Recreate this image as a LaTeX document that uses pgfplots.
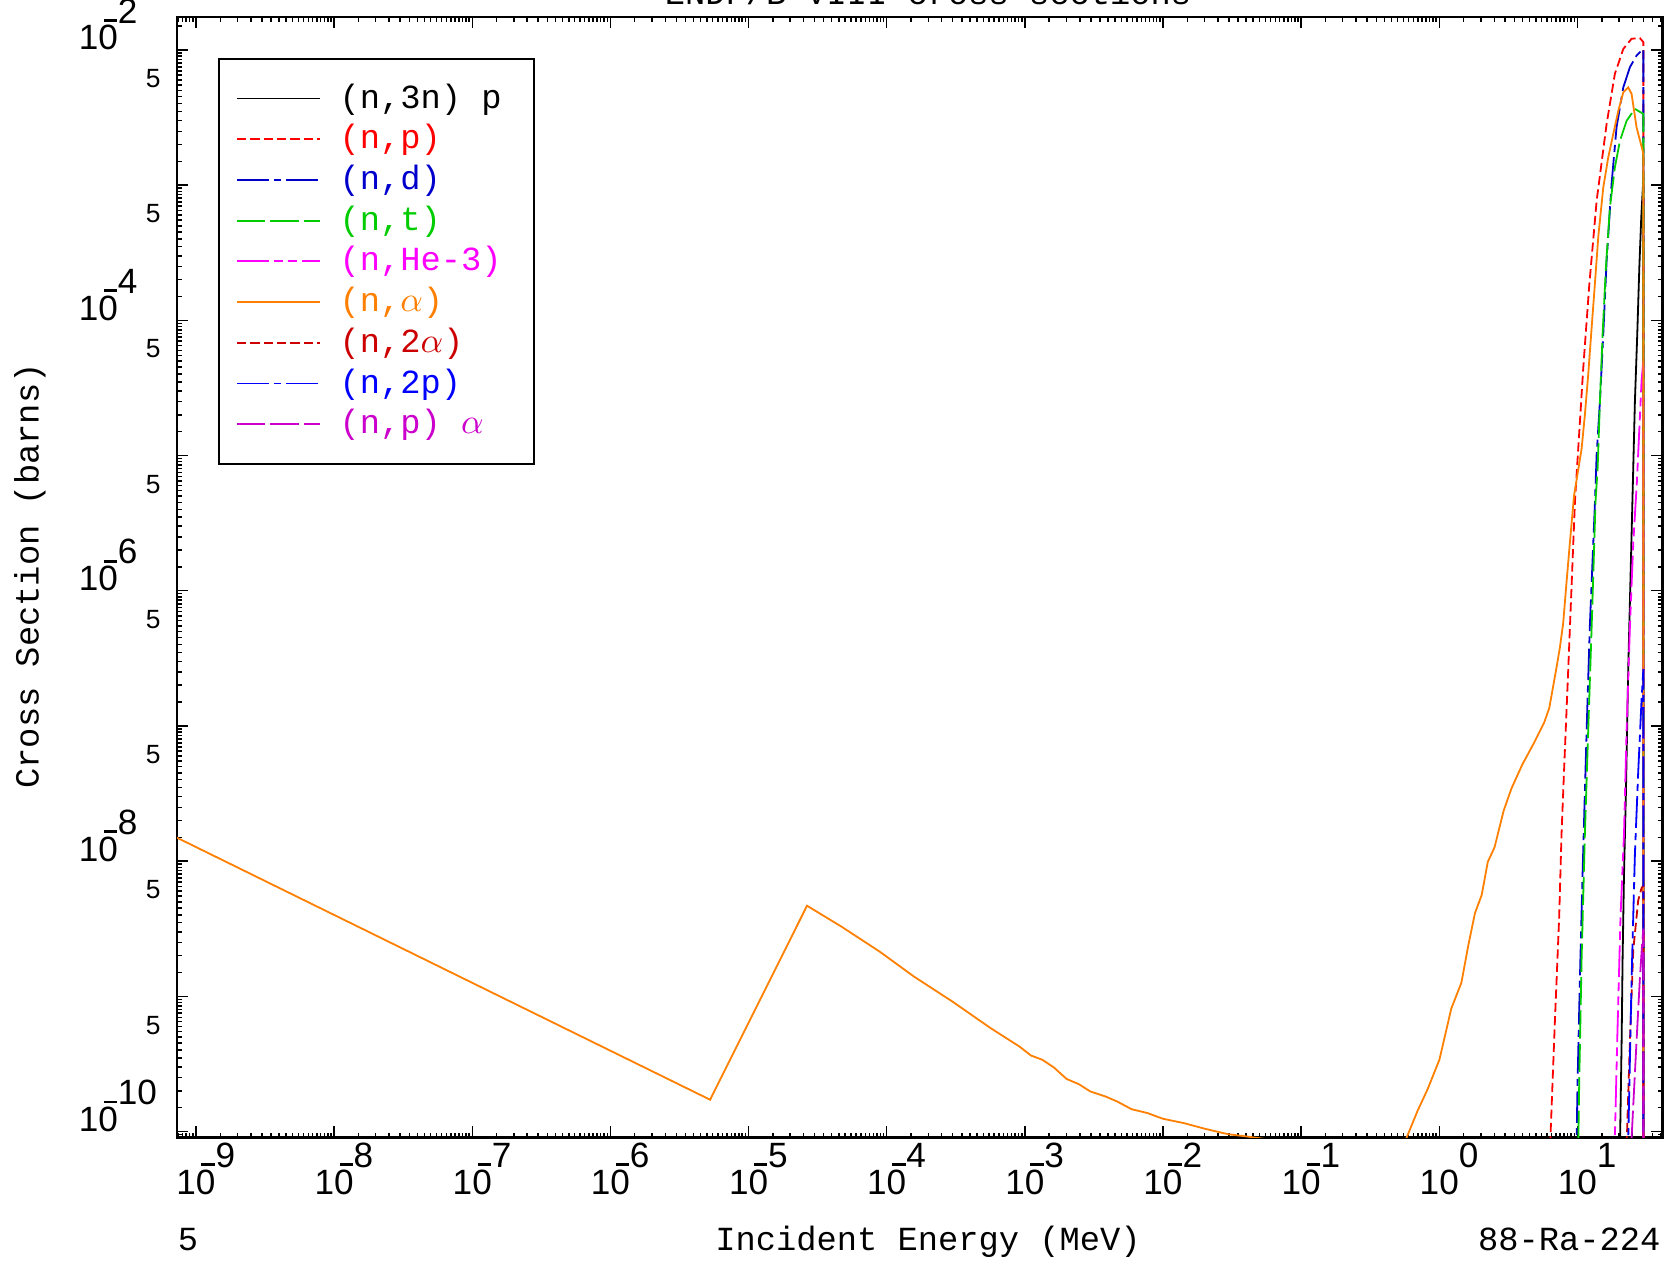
\documentclass[border=0pt]{standalone}
\usepackage{fontspec}
\setmainfont{Liberation Mono}
\newfontfamily\tickfont{Liberation Sans}
\usepackage{pgfplots}
\pgfplotsset{compat=1.18}

\definecolor{cnd}{RGB}{0,0,204}
\definecolor{cnt}{RGB}{0,204,0}
\definecolor{cmag}{RGB}{255,0,255}
\definecolor{corg}{RGB}{255,127,0}
\definecolor{cdred}{RGB}{204,0,0}
\definecolor{cblu}{RGB}{0,0,255}
\definecolor{cpur}{RGB}{204,0,204}

\newcommand\pw[1]{10\rlap{\llap{\raisebox{0.80em}{\rule{0.38em}{0.08em}}\kern0.02em}\raisebox{0.76em}{#1}}}
\newcommand\fv{\hspace{6.7mm}\raisebox{0.3mm}{\fontsize{7.5}{8}\selectfont 5}}
\newcommand\lgs{\rule[-0.8mm]{0pt}{3.2mm}}
\newcommand\cf{\fontsize{9.6}{11}\selectfont}

\def\mx{1e-20}
\foreach \e in {-10,...,1}{\foreach \m in {1.5,2,2.5,3,3.5,4,4.5,5,5.5,6,6.5,7,7.5,8,8.5,9,9.5}{\xdef\mx{\mx,\m e\e}}}
\def\my{1e-20}
\foreach \e in {-11,...,-2}{\foreach \m in {1.5,2,2.5,3,3.5,4,4.5,5.5,6,6.5,7,7.5,8,8.5,9,9.5}{\xdef\my{\my,\m e\e}}}

\tikzset{
 sp/.style={dash pattern=on 2.6pt off 1.2pt},
 dd/.style={dash pattern=on 9pt off 1.5pt on 2pt off 1.5pt},
 ld/.style={dash pattern=on 8pt off 1.5pt},
 he/.style={dash pattern=on 9pt off 1.5pt on 2.5pt off 1.5pt on 2.5pt off 1.5pt},
}

\begin{document}
\begin{tikzpicture}
\path[use as bounding box] (0,0) rectangle (167.3mm,-126.3mm);
\begin{axis}[
 at={(17.71mm,-1.71mm)}, anchor=north west,
 scale only axis, width=148.53mm, height=112.03mm,
 xmode=log, ymode=log,
 xmin=7.3e-10, xmax=41.2, ymin=9.04e-11, ymax=1.746e-2,
 axis line style={line width=0.25mm},
 tick style={line width=0.15mm, black},
 major tick length=1.1mm, minor tick length=0.45mm,
 tick align=inside,
 xtick={1e-9,1e-8,1e-7,1e-6,1e-5,1e-4,1e-3,1e-2,1e-1,1,10},
 xticklabels={\pw{9},\pw{8},\pw{7},\pw{6},\pw{5},\pw{4},\pw{3},\pw{2},\pw{1},10\rlap{\raisebox{0.76em}{0}},10\rlap{\raisebox{0.76em}{1}}},
 minor xtick/.expanded=\mx,
 ytick={1e-10,1e-9,1e-8,1e-7,1e-6,1e-5,1e-4,1e-3,1e-2},
 yticklabels={\pw{10},{},\pw{8},{},\pw{6},{},\pw{4},{},\pw{2}},
 minor ytick/.expanded=\my,
 extra y ticks={5e-10,5e-9,5e-8,5e-7,5e-6,5e-5,5e-4,5e-3},
 extra y tick labels={\fv,\fv,\fv,\fv,\fv,\fv,\fv,\fv},
 extra y tick style={grid=none, major tick length=0.45mm},
 tick label style={font=\tickfont\fontsize{10}{12}\selectfont, inner sep=0pt},
 yticklabel style={anchor=base west, xshift=-9.9mm},
 xticklabel style={anchor=base, yshift=-5.67mm},
 legend cell align=left,
 legend image code/.code={\draw[#1] (0mm,0mm) -- (8.3mm,0mm);},
 legend style={at={(axis description cs:0.02733,0.96385)}, anchor=north west,
   draw=black, line width=0.2mm, inner xsep=1.75mm, inner ysep=2.5mm,
   row sep=1.10mm, column sep=1.86mm, nodes={inner sep=0pt}, font=\cf},
 every axis plot/.append style={line width=0.18mm},
]
\addplot[black, solid] coordinates {(20.18,5.01e-11)(20.89,4.68e-10)(21.23,1.91e-9)(21.73,7.94e-9)(22.44,3.24e-8)(23.33,2.70e-7)(25.00,4.57e-6)(26.06,2.51e-5)(27.10,7.85e-5)(28.05,2.45e-4)(28.97,5.75e-4)(30,1.12e-3)(30,1e-12)};
\addlegendentry{\lgs(n,3n) p\rule{1.5mm}{0pt}}
\addplot[red, sp] coordinates {(6.237,5.01e-11)(6.871,6.61e-10)(7.379,3.89e-9)(7.674,1.60e-8)(8.110,6.56e-8)(8.590,2.70e-7)(9.078,1.11e-6)(9.594,4.57e-6)(11.02,4.45e-5)(12.19,1.84e-4)(13.77,7.64e-4)(16.26,2.83e-3)(18.66,6.64e-3)(21.48,1.016e-2)(24.66,1.208e-2)(28.31,1.222e-2)(30,1.14e-2)(30,1e-12)};
\addlegendentry{\lgs\textcolor{red}{(n,p)}}
\addplot[cnd, dd] coordinates {(9.772,5.01e-11)(10.02,2.29e-10)(10.42,1.35e-9)(10.89,7.94e-9)(11.32,3.24e-8)(11.78,1.33e-7)(12.30,5.50e-7)(13.40,4.57e-6)(13.77,1.01e-5)(14.55,2.51e-5)(15.38,7.85e-5)(16.26,2.74e-4)(17.66,1.016e-3)(19.19,2.67e-3)(21.48,5.28e-3)(23.99,7.45e-3)(26.79,9.08e-3)(30,1.016e-2)(30,1e-12)};
\addlegendentry{\lgs\textcolor{cnd}{(n,d)}}
\addplot[cnt, ld] coordinates {(10.07,5.01e-11)(10.30,2.29e-10)(10.72,1.91e-9)(11.32,1.585e-8)(11.97,9.33e-8)(12.68,5.50e-7)(13.52,4.57e-6)(14.00,8.05e-6)(14.55,2.51e-5)(15.21,7.85e-5)(16.07,2.45e-4)(17.18,6.82e-4)(18.66,1.35e-3)(20.32,2.13e-3)(22.70,2.99e-3)(26.06,3.66e-3)(30,3.36e-3)(30,1e-12)};
\addlegendentry{\lgs\textcolor{cnt}{(n,t)}}
\addplot[cmag, he] coordinates {(18.41,5.01e-11)(19.41,4.68e-10)(20.51,3.89e-9)(21.73,1.585e-8)(22.70,9.33e-8)(23.99,5.50e-7)(25.35,2.24e-6)(26.92,6.31e-6)(28.31,1.905e-5)(29.11,3.55e-5)(30,5.01e-5)(30,1e-12)};
\addlegendentry{\lgs\textcolor{cmag}{(n,He-3)}}
\addplot[corg, solid] coordinates {(7.0e-10,1.52e-8)(5.27e-6,1.718e-10)(2.649e-5,4.677e-9)(4.71e-5,3.273e-9)(8.91e-5,2.138e-9)(1.581e-4,1.396e-9)(2.992e-4,9.14e-10)(5.66e-4,5.81e-10)(9.14e-4,4.25e-10)(1.107e-3,3.65e-10)(1.340e-3,3.39e-10)(1.626e-3,2.97e-10)(2.004e-3,2.449e-10)(2.46e-3,2.239e-10)(2.98e-3,1.977e-10)(3.837e-3,1.816e-10)(4.656e-3,1.667e-10)(5.93e-3,1.462e-10)(7.74e-3,1.368e-10)(1e-2,1.242e-10)(1.419e-2,1.153e-10)(2.018e-2,1.047e-10)(2.958e-2,9.55e-11)(4.064e-2,9.18e-11)(5.6e-2,8.77e-11)(0.1,6.31e-11)(0.2512,2.51e-11)(0.4467,4.79e-11)(0.5808,9.04e-11)(0.695,1.416e-10)(0.824,2.061e-10)(1.002,3.396e-10)(1.122,5.585e-10)(1.222,8.128e-10)(1.445,1.259e-9)(1.618,2.35e-9)(1.811,4.11e-9)(2.028,5.62e-9)(2.244,9.86e-9)(2.512,1.265e-8)(2.924,2.36e-8)(3.327,3.436e-8)(3.981,5.152e-8)(4.853,7.50e-8)(5.741,1.057e-7)(6.252,1.355e-7)(6.607,1.854e-7)(7.079,2.754e-7)(7.464,3.802e-7)(7.889,5.754e-7)(8.318,1.122e-6)(8.81,2.239e-6)(9.441,5.012e-6)(10.72,1.122e-5)(11.32,1.995e-5)(11.97,3.981e-5)(12.68,8.913e-5)(13.40,1.905e-4)(14.16,4.169e-4)(15.38,9.59e-4)(16.71,1.6e-3)(18.16,2.382e-3)(19.77,3.548e-3)(21.48,4.853e-3)(23.33,5.284e-3)(24.66,4.721e-3)(26.79,2.673e-3)(29.65,1.795e-3)(30,1.66e-3)(30,1e-12)};
\addlegendentry{\lgs\textcolor{corg}{(n,$\alpha$)}}
\addplot[cdred, sp] coordinates {(22.39,5.01e-11)(23.99,4.68e-10)(25.35,2.19e-9)(27.54,5.13e-9)(29.11,6.31e-9)(30,6.61e-9)(30,1e-12)};
\addlegendentry{\lgs\textcolor{cdred}{(n,2$\alpha$)}}
\addplot[cblu, dd] coordinates {(22.91,5.01e-11)(23.33,8.91e-11)(24.66,1.35e-9)(26.06,1.12e-8)(27.54,4.57e-8)(29.11,1.55e-7)(30,2.63e-7)(30,1e-12)};
\addlegendentry{\lgs\textcolor{cblu}{(n,2p)}}
\addplot[cpur, ld] coordinates {(24.27,5.01e-11)(24.66,8.91e-11)(26.79,4.68e-10)(28.31,1.35e-9)(29.44,2.51e-9)(30,3.16e-9)(30,1e-12)};
\addlegendentry{\lgs\textcolor{cpur}{(n,p) $\alpha$}}
\end{axis}
\node[anchor=base, font=\cf, inner sep=0pt] at (92.8mm,-0.47mm) {ENDF/B-VIII cross sections};
\node[anchor=base west, font=\cf, inner sep=0pt] at (17.71mm,-125.0mm) {5};
\node[anchor=base, font=\cf, inner sep=0pt] at (92.8mm,-125.0mm) {Incident Energy (MeV)};
\node[anchor=base east, font=\cf, inner sep=0pt] at (166.1mm,-125.0mm) {88-Ra-224};
\node[rotate=90, anchor=center, font=\cf, inner sep=0pt] at (3.0mm,-57.6mm) {Cross Section (barns)};
\end{tikzpicture}
\end{document}
